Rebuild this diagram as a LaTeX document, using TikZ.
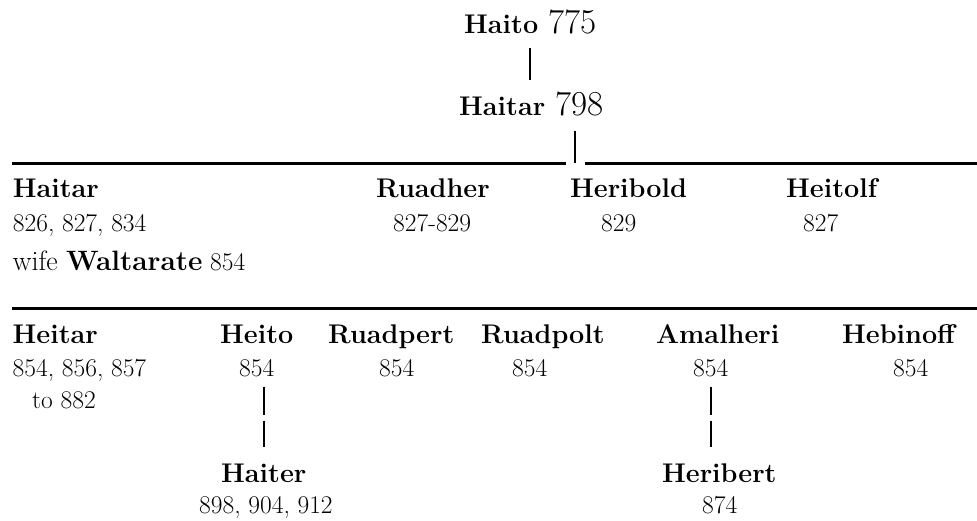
\documentclass[tikz,border=0pt]{standalone}
\newcommand{\bigyear}[1]{{\fontsize{35}{40}\selectfont\mdseries #1}}
\newcommand{\wifeline}{{\fontsize{28}{32}\selectfont wife \bfseries Waltarate}}
\begin{document}
\begin{tikzpicture}[x=1pt, y=-1pt,
		every node/.style = {inner sep=0pt, anchor=base west},
		person/.style = {font=\fontsize{27}{32}\selectfont\bfseries},
		years/.style = {font=\fontsize{25.5}{30}\selectfont},
		rule/.style = {line width=3pt},
		link/.style = {line width=1.8pt},
		broken/.style = {link, dash pattern=on 28pt off 6pt}]
	\useasboundingbox (0,0) rectangle (977,520);
	\node[person] (haito) at (464,33) {Haito \bigyear{775}};
	\node[person] (haitar) at (459,115) {Haitar \bigyear{798}};
	\coordinate (fork) at (575,163);
	\coordinate (bar1w) at (12,163);
	\coordinate (bar1e) at (977,163);
	\node[person] (haitar2) at (12.7,197) {Haitar};
	\node[person] (ruadher) at (376,197) {Ruadher};
	\node[person] (heribold) at (570,197) {Heribold};
	\node[person] (heitolf) at (786,197) {Heitolf};
	\node[years] (haitar2yr) at (12.7,231) {826, 827, 834};
	\node[years] (ruadheryr) at (393,231) {827-829};
	\node[years] (heriboldyr) at (601,231) {829};
	\node[years] (heitolfyr) at (803,231) {827};
	\node[years] (wife) at (12.7,270) {\wifeline\ 854};
	\coordinate (bar2w) at (12,308);
	\coordinate (bar2e) at (977,308);
	\node[person] (heitar) at (12.5,343) {Heitar};
	\node[person] (heito) at (220,343) {Heito};
	\node[person] (ruadpert) at (328,343) {Ruadpert};
	\node[person] (ruadpolt) at (481,343) {Ruadpolt};
	\node[person] (amalheri) at (656,343) {Amalheri};
	\node[person] (hebinoff) at (842,343) {Hebinoff};
	\node[years] (heitaryr) at (12.5,376) {854, 856, 857};
	\node[years] (heitaryr2) at (32,408) {to 882};
	\node[years] (heitoyr) at (239,376) {854};
	\node[years] (ruadpertyr) at (379,376) {854};
	\node[years] (ruadpoltyr) at (512,376) {854};
	\node[years] (amalheriyr) at (693,376) {854};
	\node[years] (hebinoffyr) at (893,376) {854};
	\node[person] (haiter) at (221,482) {Haiter};
	\node[person] (heribert) at (662,482) {Heribert};
	\node[years] (haiteryr) at (199,513) {898, 904, 912};
	\node[years] (heribertyr) at (702,513) {874};
	\draw[link, shorten <=14pt, shorten >=11pt] (haito.south) -- (haito.south |- haitar.north);
	\draw[link, shorten >=15pt] (fork) -- (fork |- haitar.south);
	\draw[rule] (bar1w) -- ([xshift=-9pt]fork);
	\draw[rule] ([xshift=10pt]fork) -- (bar1e);
	\draw[rule] (bar2w) -- (bar2e);
	\draw[broken, shorten <=10pt, shorten >=16pt] (haiter.north |- heitoyr.south) -- (haiter.north);
	\draw[broken, shorten <=10pt, shorten >=16pt] (amalheriyr.south) -- (amalheriyr.south |- heribert.north);
\end{tikzpicture}
\end{document}
